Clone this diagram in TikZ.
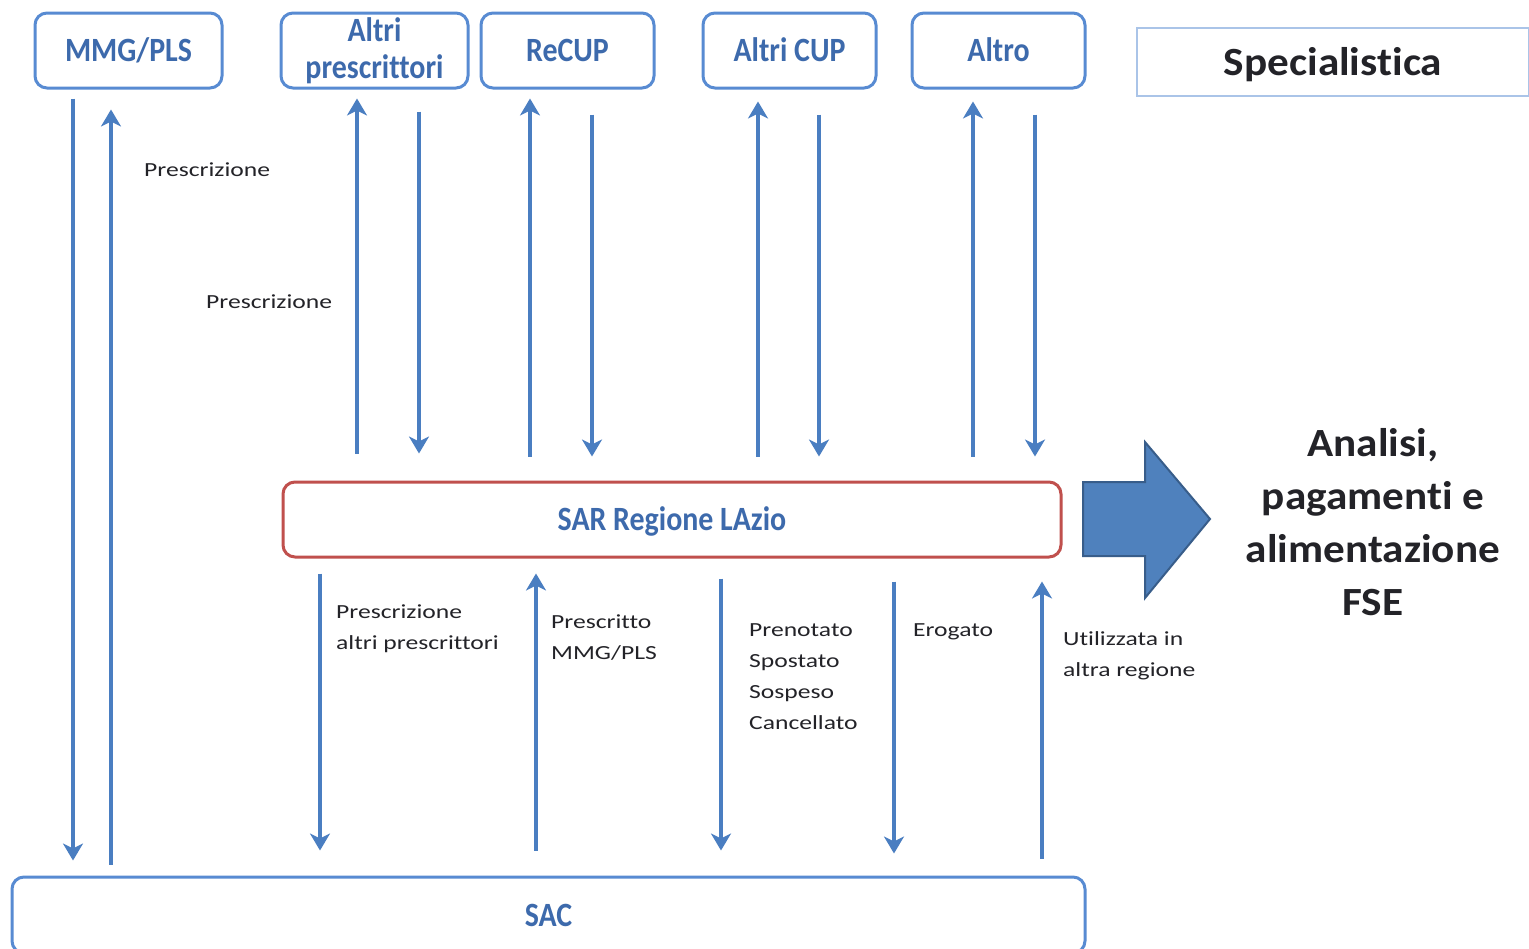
\documentclass[tikz,border=0pt]{standalone}
\usepackage{fontspec}
\setmainfont{Carlito}[Ligatures=NoCommon]
\newfontfamily\boxfont{Carlito}[FakeStretch=0.88,Ligatures=NoCommon]
\newfontfamily\lblfont{Carlito}[FakeStretch=1.28,Ligatures=NoCommon]
\newfontfamily\bigfont{Carlito}[FakeStretch=1.08,Ligatures=NoCommon]
\usetikzlibrary{arrows.meta}

\definecolor{linkblue}{RGB}{74,126,193}
\definecolor{boxblue}{RGB}{88,139,210}
\definecolor{textblue}{RGB}{61,106,172}
\definecolor{sarred}{RGB}{192,80,77}
\definecolor{lightframe}{RGB}{170,196,232}
\definecolor{fillblue}{RGB}{79,129,189}
\definecolor{edgeblue}{RGB}{56,93,138}
\definecolor{ink}{RGB}{35,35,40}

\tikzset{
  sysbox/.style={draw=boxblue, line width=3pt, rounded corners=12pt, inner sep=0pt,
    minimum height=75pt, text=textblue, align=center,
    font=\boxfont\bfseries\fontsize{34}{37}\selectfont},
  oneline/.style={text height=22pt, text depth=0pt},
  flow/.style={draw=linkblue, line width=3.5pt, -{Stealth[length=17pt,width=20pt,inset=5pt]}},
  lbl/.style={anchor=north west, inner sep=0pt, align=left, text=ink,
    font=\lblfont\fontsize{20}{31}\selectfont},
}

\begin{document}
\begin{tikzpicture}[x=1pt,y=-1pt]
\clip (0,0) rectangle (1529,948);
\fill[white] (0,0) rectangle (1529,948);

% Sistemi in alto
\node[sysbox, oneline, minimum width=187pt] (mmg) at (128.5,50.5) {MMG/PLS};
\node[sysbox, minimum width=187pt] (alp) at (374.5,50.5) {Altri\\prescrittori};
\node[sysbox, oneline, minimum width=173pt] (recup) at (567.5,50.5) {ReCUP};
\node[sysbox, oneline, minimum width=173pt] (acup) at (789.5,50.5) {Altri CUP};
\node[sysbox, oneline, minimum width=173pt] (altro) at (998.5,50.5) {Altro};

% Titolo
\node[draw=lightframe, line width=2pt, minimum width=392pt, minimum height=68pt,
  text height=26pt, text depth=0pt,
  text=ink, font=\bigfont\bfseries\fontsize{40}{48}\selectfont] (spec) at (1333,62) {Specialistica};

% SAR e SAC
\node[sysbox, oneline, draw=sarred, minimum width=778pt] (sar) at (672,519.5) {SAR Regione LAzio};
\node[sysbox, oneline, minimum width=1073pt, minimum height=76pt] (sac) at (548.5,915) {SAC};

% Colonne delle frecce
\coordinate (k1) at (73,0);
\coordinate (k2) at (111,0);
\coordinate (k3) at (357,0);
\coordinate (k4) at (419,0);
\coordinate (k5) at (530,0);
\coordinate (k6) at (592,0);
\coordinate (k7) at (758,0);
\coordinate (k8) at (819,0);
\coordinate (k9) at (973,0);
\coordinate (k10) at (1035,0);
\coordinate (k11) at (320,0);
\coordinate (k12) at (536,0);
\coordinate (k13) at (721,0);
\coordinate (k14) at (894,0);
\coordinate (k15) at (1042,0);

% MMG/PLS <-> SAC
\draw[flow, shorten <=9pt, shorten >=15pt] (mmg.south -| k1) -- (sac.north -| k1);
\draw[flow, shorten <=11pt, shorten >=20pt] (sac.north -| k2) -- (mmg.south -| k2);
\node[lbl] (p1) at (144,163) {Prescrizione};

% sistemi in alto <-> SAR
\draw[flow, shorten <=27pt, shorten >=9pt] (sar.north -| k3) -- (alp.south -| k3);
\draw[flow, shorten <=22pt, shorten >=27pt] (alp.south -| k4) -- (sar.north -| k4);
\node[lbl] (p2) at (206,295) {Prescrizione};
\draw[flow, shorten <=24pt, shorten >=9pt] (sar.north -| k5) -- (recup.south -| k5);
\draw[flow, shorten <=25pt, shorten >=24pt] (recup.south -| k6) -- (sar.north -| k6);
\draw[flow, shorten <=24pt, shorten >=12pt] (sar.north -| k7) -- (acup.south -| k7);
\draw[flow, shorten <=25pt, shorten >=24pt] (acup.south -| k8) -- (sar.north -| k8);
\draw[flow, shorten <=24pt, shorten >=12pt] (sar.north -| k9) -- (altro.south -| k9);
\draw[flow, shorten <=25pt, shorten >=24pt] (altro.south -| k10) -- (sar.north -| k10);

% SAR <-> SAC
\draw[flow, shorten <=15pt, shorten >=25pt] (sar.south -| k11) -- (sac.north -| k11);
\node[lbl] (p3) at (336,605) {Prescrizione\\altri prescrittori};
\draw[flow, shorten <=25pt, shorten >=15pt] (sac.north -| k12) -- (sar.south -| k12);
\node[lbl] (p4) at (551,615) {Prescritto\\MMG/PLS};
\draw[flow, shorten <=20pt, shorten >=25pt] (sar.south -| k13) -- (sac.north -| k13);
\node[lbl] (p5) at (749,623) {Prenotato\\Spostato\\Sospeso\\Cancellato};
\draw[flow, shorten <=23pt, shorten >=22pt] (sar.south -| k14) -- (sac.north -| k14);
\node[lbl] (p6) at (913,623) {Erogato};
\draw[flow, shorten <=17pt, shorten >=23pt] (sac.north -| k15) -- (sar.south -| k15);
\node[lbl] (p7) at (1063,631) {Utilizzata in\\altra regione};

% Freccia grande verso l'analisi
\filldraw[fill=fillblue, draw=edgeblue, line width=2pt]
  (1083,482) -- (1145,482) -- (1145,442) -- (1210,519) -- (1145,598) -- (1145,556) -- (1083,556) -- cycle;
\node[anchor=north, align=center, inner sep=0pt, text=ink,
  font=\bigfont\bfseries\fontsize{40}{53}\selectfont] (fse) at (1373,428)
  {Analisi,\\pagamenti e\\alimentazione\\FSE};
\end{tikzpicture}
\end{document}
